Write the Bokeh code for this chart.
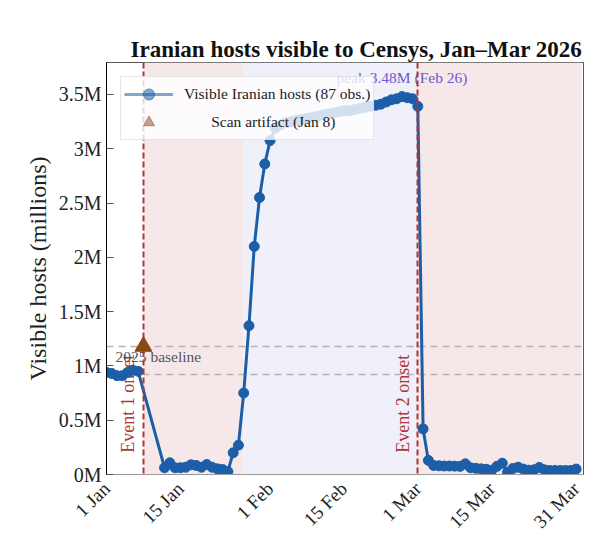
import math
import pandas as pd
from bokeh.plotting import figure
from bokeh.models import (Range1d, FixedTicker, Legend, LegendItem, Title,
                          CustomJSTickFormatter)
from bokeh.core.properties import value
from bokeh.embed import file_html
from bokeh.resources import INLINE

FONT = "Liberation Serif"

# ---------------- data ----------------
obs_dates = (list(pd.date_range("2026-01-01", "2026-01-07")) +
             list(pd.date_range("2026-01-12", "2026-03-31")))
hosts_m = [
    # Jan 1-7
    0.94, 0.93, 0.91, 0.91, 0.94, 0.96, 0.95,
    # Jan 12-23
    0.062, 0.108, 0.062, 0.062, 0.067, 0.089, 0.083, 0.067, 0.092, 0.067,
    0.052, 0.046,
    # Jan 24 - Mar 1
    0.028, 0.20, 0.27, 0.75, 1.37, 2.10, 2.55, 2.86, 3.075,
    3.19, 3.22, 3.24, 3.25, 3.26, 3.27, 3.28, 3.29, 3.30, 3.31, 3.32, 3.33,
    3.34, 3.35, 3.35, 3.36, 3.37, 3.38, 3.39, 3.40, 3.41, 3.43, 3.45, 3.46,
    3.48, 3.47, 3.46, 3.39,
    # Mar 2-31
    0.42, 0.13, 0.083, 0.08, 0.078, 0.078, 0.077, 0.075, 0.098, 0.062,
    0.057, 0.052, 0.048, 0.04, 0.075, 0.104, 0.02, 0.055, 0.067, 0.05,
    0.04, 0.043, 0.065, 0.043, 0.037, 0.037, 0.037, 0.037, 0.037, 0.05,
]
artifact_date = [pd.Timestamp("2026-01-08")]
artifact_m = [1.18]
baseline_m = [1.18, 0.92]
event_dates = [pd.Timestamp("2026-01-08"), pd.Timestamp("2026-03-01")]
event_labels = ["Event 1 onset", "Event 2 onset"]
phase_start = [pd.Timestamp("2026-01-08"), pd.Timestamp("2026-01-27"), pd.Timestamp("2026-03-01")]
phase_end = [pd.Timestamp("2026-01-27"), pd.Timestamp("2026-03-01"), pd.Timestamp("2026-04-01")]
phase_colors = ["#f6e8e8", "#eff0f9", "#f6e8e8"]
peak_date = [pd.Timestamp("2026-02-26")]
peak_m = [3.48]
peak_label = ["peak 3.48M (Feb 26)"]
title_text = "Iranian hosts visible to Censys, Jan\u2013Mar 2026"

x_tick_dates = ["2026-01-01", "2026-01-15", "2026-02-01", "2026-02-15",
                "2026-03-01", "2026-03-15", "2026-03-31"]
x_tick_labels = ["1 Jan", "15 Jan", "1 Feb", "15 Feb", "1 Mar", "15 Mar", "31 Mar"]
y_ticks = [0, 0.5, 1, 1.5, 2, 2.5, 3, 3.5]

BLUE = "#1c5ea8"
RED = "#b03535"
BROWN = "#8b4a14"


def ms(d):
    return pd.Timestamp(d).timestamp() * 1000.0


x_tick_ms = [ms(d) for d in x_tick_dates]

p = figure(
    x_axis_type="datetime",
    frame_width=477, frame_height=412,
    min_border_left=106, min_border_right=4, min_border_top=62, min_border_bottom=62,
    output_backend="svg", toolbar_location=None,
    x_range=Range1d(ms("2026-01-01"), ms("2026-04-01") + 0.4 * 86400000),
    y_range=Range1d(0, 3.794),
)

# real title (outer), then a spacer next to the frame
p.add_layout(Title(text=title_text, text_font=FONT, text_font_size="23px",
                   text_font_style="bold", align="left", offset=24,
                   vertical_align="bottom", standoff=2, text_color="#111111"), "above")
p.add_layout(Title(text=" ", text_font_size="10px", standoff=20, text_alpha=0), "above")

p.xgrid.visible = False
p.ygrid.visible = False
p.outline_line_color = "#555555"
p.background_fill_color = "white"

# shading
p.vstrip(x0=phase_start, x1=phase_end, fill_color=phase_colors, line_color=None)
# baselines
p.hspan(y=baseline_m, line_color="#b5b5b5", line_width=1.5, line_dash="7 5")

# texts under data
p.text(x=event_dates, y=[0.2, 0.2], text=event_labels, angle=math.pi / 2,
       text_align="left", text_baseline="bottom", x_offset=-5,
       text_color=RED, text_font=value(FONT), text_font_size="18px")
p.text(x=[pd.Timestamp("2026-01-01")], y=[1.09], text=["2025 baseline"],
       x_offset=9, text_align="left", text_baseline="middle",
       text_color="#555555", text_font=value(FONT), text_font_size="15.5px")
p.text(x=peak_date, y=peak_m, text=peak_label, y_offset=-19,
       text_align="center", text_baseline="middle", text_color="#6a5acd",
       text_font=value(FONT), text_font_size="15.5px")

# data
p.line(obs_dates, hosts_m, line_color=BLUE, line_width=3)
p.scatter(obs_dates, hosts_m, size=10, fill_color=BLUE, line_color=BLUE)

# event lines
p.vspan(x=event_dates, line_color=RED, line_width=2, line_dash="6 3")

# artifact
p.scatter(artifact_date, artifact_m, marker="triangle", size=17,
          fill_color=BROWN, line_color=BROWN)

# legend proxies (kept below the visible y range, only drawn in the legend)
proxy_x = [obs_dates[0]]
proxy_y = [-1.0]
lg_line = p.line(proxy_x, proxy_y, line_color=BLUE, line_width=3, line_alpha=0.55)
lg_dot = p.scatter(proxy_x, proxy_y, size=10, fill_color=BLUE, line_color=BLUE,
                   fill_alpha=0.55, line_alpha=0.55)
lg_tri = p.scatter(proxy_x, proxy_y, marker="triangle", size=15, fill_color=BROWN,
                   line_color=BROWN, fill_alpha=0.5, line_alpha=0.5)

legend = Legend(items=[
    LegendItem(label="Visible Iranian hosts (87 obs.)", renderers=[lg_line, lg_dot]),
    LegendItem(label="\u00a0" * 7 + "Scan artifact (Jan 8)", renderers=[lg_tri]),
], location="top_left", margin=14, padding=3, spacing=0,
    glyph_width=49, glyph_height=28, label_height=20, label_standoff=11,
    label_text_font=FONT, label_text_font_size="15.5px", label_text_color="#222222",
    background_fill_color="white", background_fill_alpha=0.8,
    border_line_color="#cccccc", border_line_width=1)
p.add_layout(legend, "center")

# axes
p.yaxis.ticker = FixedTicker(ticks=y_ticks)
p.yaxis.formatter = CustomJSTickFormatter(code="return tick + 'M';")
p.yaxis.axis_label = "Visible hosts (millions)"
p.yaxis.axis_label_text_font = FONT
p.yaxis.axis_label_text_font_style = "normal"
p.yaxis.axis_label_text_font_size = "24px"
p.yaxis.axis_label_text_color = "#222222"
p.yaxis.major_label_text_font = FONT
p.yaxis.major_label_text_font_size = "20px"
p.yaxis.major_label_text_color = "#222222"
p.yaxis.axis_line_color = "black"
p.yaxis.major_tick_in = 7
p.yaxis.major_tick_out = 0
p.yaxis.major_tick_line_color = "#555555"
p.yaxis.minor_tick_line_color = None

p.xaxis.ticker = FixedTicker(ticks=x_tick_ms)
p.xaxis.formatter = CustomJSTickFormatter(
    args=dict(tick_pos=x_tick_ms, tick_names=x_tick_labels),
    code="const i = tick_pos.indexOf(tick); return i >= 0 ? tick_names[i] : '';")
p.xaxis.major_label_orientation = math.pi / 4
p.xaxis.major_label_text_font = FONT
p.xaxis.major_label_text_font_size = "19px"
p.xaxis.major_label_text_color = "#222222"
p.xaxis.axis_line_color = "#999999"
p.xaxis.major_tick_line_color = None
p.xaxis.minor_tick_line_color = None

open("out.html", "w").write(file_html(p, INLINE))
